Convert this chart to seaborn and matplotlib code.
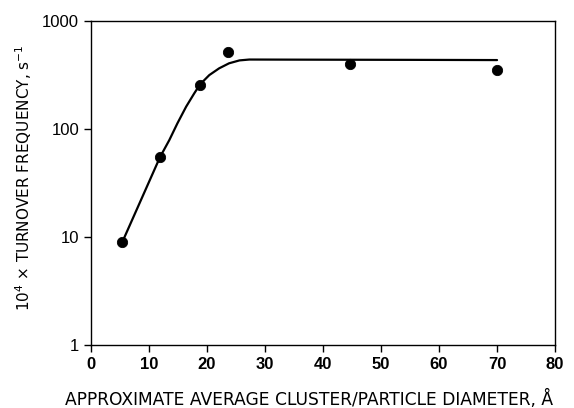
import matplotlib
matplotlib.use("Agg")
import matplotlib.pyplot as plt
import seaborn as sns
from matplotlib.ticker import FixedLocator, NullLocator, FixedFormatter

# measured points
diameter = [5.4, 11.9, 18.8, 23.7, 44.6, 70.0]
tof = [9, 55, 255, 516, 400, 352]

# fitted curve
curve_x = [5.4, 11.9, 13.5, 14.9, 16.4, 17.8, 18.8, 20.4, 22.1, 23.8, 25.6, 27.3, 35.0, 45.0, 55.0, 70.0]
curve_y = [9, 55, 79, 113, 161, 214, 259, 316, 365, 406, 432, 440, 439, 438, 437, 435]

x_ticks = [0, 10, 20, 30, 40, 50, 60, 70, 80]
y_ticks = [1, 10, 100, 1000]
y_labels = ["1", "10", "100", "1000"]

sns.set_style("ticks")
plt.rcParams['font.family'] = ['Liberation Sans', 'DejaVu Sans']

fig = plt.figure(figsize=(5.74, 4.08), dpi=100)
ax = fig.add_axes([0.1585, 0.154, 0.8085, 0.7945])

sns.lineplot(x=curve_x, y=curve_y, ax=ax, color="black", linewidth=1.6, sort=False)
sns.scatterplot(x=diameter, y=tof, ax=ax, color="black", s=55, edgecolor="black", zorder=3)

ax.set_yscale("log")
ax.set_xlim(0, 80)
ax.set_ylim(1, 1000)
ax.set_xticks(x_ticks)
ax.set_xticklabels([str(t) for t in x_ticks], fontsize=12, fontweight="bold")
ax.yaxis.set_major_locator(FixedLocator(y_ticks))
ax.yaxis.set_major_formatter(FixedFormatter(y_labels))
ax.yaxis.set_minor_locator(NullLocator())
ax.tick_params(axis="y", labelsize=12)
ax.tick_params(direction="out", length=5, width=1, colors="black")

for s in ax.spines.values():
    s.set_visible(True)
    s.set_color("black")
    s.set_linewidth(1.0)

ax.set_xlabel("APPROXIMATE AVERAGE CLUSTER/PARTICLE DIAMETER, Å",
              fontsize=12.3, family=["DejaVu Sans"], color="black")
ax.xaxis.set_label_coords(0.471, -0.138)
ax.set_ylabel(r"10$^4$ × TURNOVER FREQUENCY, s$^{-1}$",
              fontsize=11, family=["DejaVu Sans"], color="black")
ax.yaxis.set_label_coords(-0.122, 0.515)

fig.savefig("out.png", dpi=100)
